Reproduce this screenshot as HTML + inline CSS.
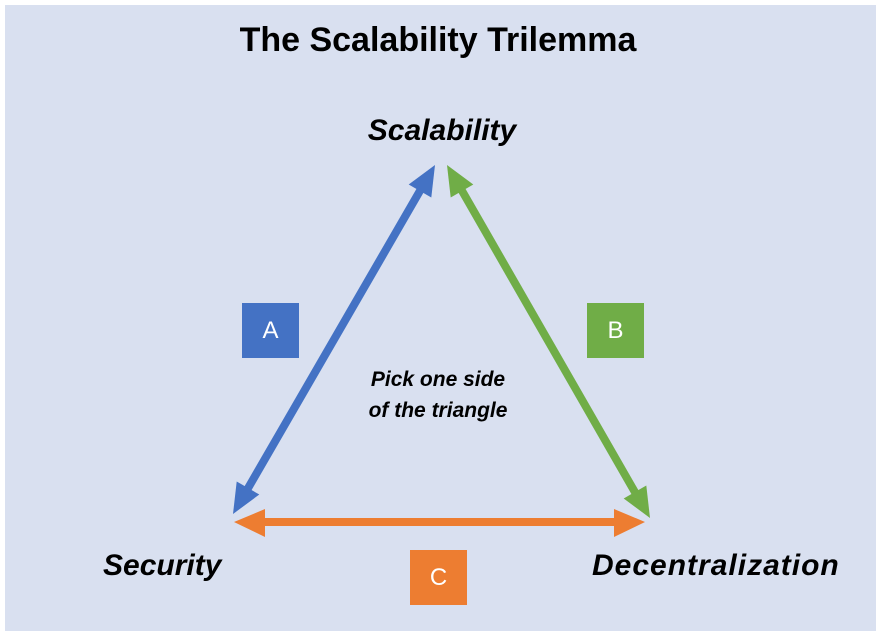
<!DOCTYPE html>
<html><head><meta charset="utf-8"><style>
html,body{margin:0;padding:0;background:#fff;}
body{width:884px;height:639px;position:relative;overflow:hidden;font-family:"Liberation Sans",sans-serif;}
.bg{position:absolute;left:5px;top:5px;width:871px;height:626px;background:#d9e0f0;}
.t{position:absolute;white-space:nowrap;font-weight:bold;color:#000;}
.box{position:absolute;width:57px;height:55px;color:#fff;font-size:24px;text-align:center;line-height:55px;}
</style></head><body>
<div class="bg"></div>
<svg width="884" height="639" style="position:absolute;left:0;top:0">
<g stroke-width="8" fill="none">
<line x1="421" y1="189" x2="247" y2="490" stroke="#4472c4"/>
<line x1="461" y1="189" x2="636" y2="494" stroke="#70ad47"/>
<line x1="262" y1="522" x2="616" y2="522" stroke="#ed7d31"/>
</g>
<polygon points="435,165 431.3,197.5 408.7,184.5" fill="#4472c4"/>
<polygon points="233,514 259.3,494.5 236.7,481.5" fill="#4472c4"/>
<polygon points="447,165 473.3,184.5 450.7,197.5" fill="#70ad47"/>
<polygon points="650,518 646.3,485.5 623.7,498.5" fill="#70ad47"/>
<polygon points="234,522 265,509 265,537" fill="#ed7d31"/>
<polygon points="645,522 614,509 614,537" fill="#ed7d31"/>
</svg>
<div class="t" style="left:0;width:876px;text-align:center;top:21px;font-size:34px;">The Scalability Trilemma</div>
<div class="t" style="left:0;width:884px;text-align:center;top:114px;font-size:30px;font-style:italic;">Scalability</div>
<div class="t" style="left:103px;top:549px;font-size:30px;font-style:italic;">Security</div>
<div class="t" style="left:592px;top:549px;font-size:30px;font-style:italic;letter-spacing:1px;">Decentralization</div>
<div class="t" style="left:338px;width:200px;text-align:center;top:364px;font-size:21px;font-style:italic;line-height:31px;">Pick one side<br>of the triangle</div>
<div class="box" style="left:242px;top:303px;background:#4472c4;">A</div>
<div class="box" style="left:587px;top:303px;background:#70ad47;">B</div>
<div class="box" style="left:410px;top:550px;background:#ed7d31;">C</div>
</body></html>
